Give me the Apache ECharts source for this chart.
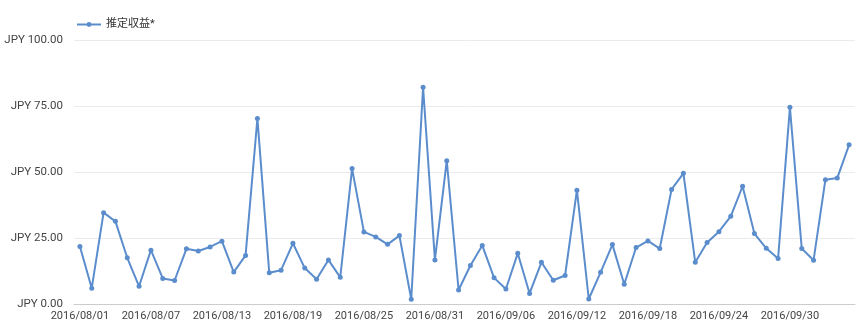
<!DOCTYPE html>
<html>
<head>
<meta charset="utf-8">
<script src="https://cdn.jsdelivr.net/npm/echarts@6/dist/echarts.min.js"></script>
<style>html,body{margin:0;padding:0;background:#fff}#c{width:862px;height:324px}</style>
</head>
<body>
<div id="c"></div>
<script>
function buildDates(){
  var out=[];var d=new Date(Date.UTC(2016,7,1));
  for(var i=0;i<66;i++){
    var m=d.getUTCMonth()+1, dd=d.getUTCDate();
    out.push('2016/'+(m<10?'0':'')+m+'/'+(dd<10?'0':'')+dd);
    d.setUTCDate(dd+1);
  }
  return out;
}
var categories = buildDates();
var seriesName = '推定収益*';
var values = [
  21.8, 6.0, 34.6, 31.3, 17.5, 6.7, 20.4, 9.7, 8.9, 20.9,
  20.1, 21.6, 23.8, 12.1, 18.4, 70.3, 11.8, 12.8, 23.0, 13.6,
  9.4, 16.7, 10.1, 51.3, 27.3, 25.4, 22.6, 25.9, 1.8, 82.1,
  16.7, 54.3, 5.3, 14.6, 22.2, 9.9, 5.7, 19.2, 4.0, 15.8,
  9.0, 10.8, 43.1, 1.9, 12.0, 22.5, 7.5, 21.4, 23.9, 21.0,
  43.4, 49.5, 15.8, 23.3, 27.4, 33.2, 44.6, 26.7, 21.1, 17.2,
  74.5, 21.0, 16.6, 47.1, 47.7, 60.3
];
var yTicks = [0, 25, 50, 75, 100];

var chart = echarts.init(document.getElementById('c'));
chart.setOption({
  animation:false,
  textStyle:{fontFamily:'Roboto, "Noto Sans CJK JP", sans-serif'},
  legend:{
    data:[seriesName], left:71, top:14, itemWidth:24, itemHeight:6, itemGap:6,
    textStyle:{color:'#333', fontSize:11, fontFamily:'Roboto, "Noto Sans CJK JP", sans-serif'}
  },
  grid:{left:74, right:7, top:40, bottom:20, containLabel:false},
  xAxis:{
    type:'category', data:categories, boundaryGap:true,
    axisLine:{lineStyle:{color:'#cccccc'}},
    axisTick:{show:false},
    axisLabel:{interval:5, color:'#444', fontSize:11, margin:7}
  },
  yAxis:{
    type:'value', min:yTicks[0], max:yTicks[yTicks.length-1], interval:25,
    axisLine:{show:false}, axisTick:{show:false},
    splitLine:{lineStyle:{color:'#ebebeb'}},
    axisLabel:{color:'#444', fontSize:11.5, margin:11, formatter:function(v){return 'JPY '+v.toFixed(2);}}
  },
  series:[{
    name:seriesName, type:'line', data:values,
    symbol:'circle', symbolSize:5, showAllSymbol:true,
    lineStyle:{width:2, color:'#5b8dcd'},
    itemStyle:{color:'#5b8dcd'}
  }]
});
</script>
</body>
</html>
